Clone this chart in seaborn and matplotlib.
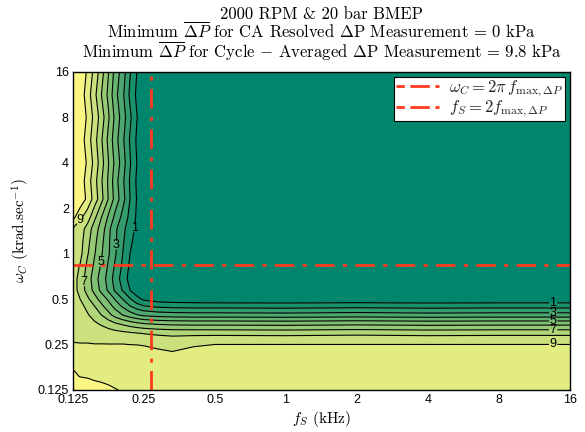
import matplotlib
matplotlib.use("Agg")
import matplotlib.pyplot as plt
import seaborn as sns
from matplotlib.lines import Line2D

# ---------------- data ----------------
fs_khz = [0.125, 0.134, 0.144, 0.154, 0.165, 0.177, 0.189, 0.203, 0.218, 0.233,
          0.25, 0.287, 0.33, 0.406, 0.5, 1.0, 2.0, 4.0, 8.0, 16.0]
omega_c = [16.0, 11.31, 8.0, 5.66, 4.0, 3.03, 2.30, 1.74, 1.46, 1.23, 1.0, 0.812,
           0.683, 0.574, 0.5, 0.451, 0.392, 0.341, 0.297, 0.259, 0.225, 0.189,
           0.154, 0.125]
dp_min_kpa = [
    [12.0, 10.9, 9.8, 8.7, 7.4, 6.0, 4.6, 3.5, 2.1, 1.0, 0.3, 0, 0, 0, 0, 0, 0, 0, 0, 0],
    [12.0, 10.6, 9.5, 8.3, 7.0, 5.7, 4.3, 3.2, 1.8, 0.8, 0.2, 0, 0, 0, 0, 0, 0, 0, 0, 0],
    [12.0, 10.9, 9.8, 8.7, 7.5, 6.1, 4.7, 3.5, 2.2, 1.05, 0.3, 0, 0, 0, 0, 0, 0, 0, 0, 0],
    [12.0, 10.6, 9.5, 8.4, 7.1, 5.7, 4.4, 3.2, 1.9, 0.85, 0.2, 0, 0, 0, 0, 0, 0, 0, 0, 0],
    [12.0, 10.9, 9.8, 8.7, 7.4, 6.0, 4.7, 3.5, 2.1, 1.0, 0.3, 0, 0, 0, 0, 0, 0, 0, 0, 0],
    [12.0, 10.6, 9.5, 8.4, 7.1, 5.8, 4.4, 3.2, 1.9, 0.85, 0.2, 0, 0, 0, 0, 0, 0, 0, 0, 0],
    [11.8, 10.8, 9.7, 8.6, 7.3, 5.9, 4.6, 3.4, 2.0, 0.95, 0.25, 0, 0, 0, 0, 0, 0, 0, 0, 0],
    [10.3, 9.2, 8.5, 7.25, 6.0, 4.8, 3.7, 2.7, 1.7, 0.85, 0.25, 0, 0, 0, 0, 0, 0, 0, 0, 0],
    [8.9, 8.5, 7.6, 6.5, 5.55, 4.25, 3.2, 2.25, 1.5, 0.7, 0.2, 0, 0, 0, 0, 0, 0, 0, 0, 0],
    [8.7, 8.4, 7.35, 6.3, 5.3, 4.15, 3.15, 2.15, 1.3, 0.5, 0.15, 0, 0, 0, 0, 0, 0, 0, 0, 0],
    [8.6, 8.3, 7.1, 6.1, 5.1, 4.1, 3.1, 2.0, 1.0, 0.35, 0.1, 0, 0, 0, 0, 0, 0, 0, 0, 0],
    [8.5, 7.9, 6.7, 5.8, 4.8, 3.8, 2.8, 1.8, 0.8, 0.2, 0.05, 0, 0, 0, 0, 0, 0, 0, 0, 0],
    [8.5, 7.6, 6.5, 5.5, 4.5, 3.6, 2.5, 1.6, 0.6, 0.15, 0.05, 0, 0, 0, 0, 0, 0, 0, 0, 0],
    [8.5, 7.6, 6.6, 5.7, 4.7, 3.8, 2.8, 1.9, 1.0, 0.4, 0.15, 0.05, 0, 0, 0, 0, 0, 0, 0, 0],
    [8.6, 8.0, 7.2, 6.4, 5.6, 4.8, 3.9, 3.0, 2.1, 1.3, 0.8, 0.5, 0.4, 0.35, 0.3, 0.3, 0.3, 0.3, 0.3, 0.3],
    [8.7, 8.3, 7.7, 7.0, 6.2, 5.4, 4.6, 3.8, 3.0, 2.4, 2.0, 1.7, 1.6, 1.55, 1.55, 1.5, 1.6, 1.5, 1.55, 1.55],
    [8.75, 8.5, 8.1, 7.6, 7.0, 6.3, 5.6, 5.0, 4.5, 4.1, 3.8, 3.6, 3.5, 3.45, 3.45, 3.4, 3.5, 3.4, 3.45, 3.45],
    [8.8, 8.65, 8.45, 8.2, 7.9, 7.55, 7.2, 6.9, 6.6, 6.35, 6.15, 5.95, 5.85, 5.8, 5.8, 5.75, 5.85, 5.75, 5.8, 5.8],
    [8.85, 8.8, 8.75, 8.65, 8.55, 8.45, 8.35, 8.25, 8.15, 8.05, 7.95, 7.8, 7.7, 7.7, 7.7, 7.65, 7.75, 7.65, 7.7, 7.7],
    [9.0, 8.95, 8.95, 8.9, 8.9, 8.9, 8.9, 8.9, 8.85, 8.85, 8.8, 8.7, 8.6, 8.8, 8.9, 8.9, 8.9, 8.9, 8.9, 8.9],
    [9.5, 9.5, 9.5, 9.45, 9.45, 9.4, 9.4, 9.4, 9.4, 9.35, 9.3, 9.1, 9.0, 9.2, 9.3, 9.3, 9.3, 9.3, 9.3, 9.3],
    [9.9, 9.85, 9.8, 9.78, 9.75, 9.72, 9.7, 9.68, 9.65, 9.62, 9.6, 9.55, 9.5, 9.5, 9.5, 9.5, 9.5, 9.5, 9.5, 9.5],
    [10.1, 9.98, 9.95, 9.9, 9.87, 9.85, 9.82, 9.8, 9.78, 9.75, 9.7, 9.65, 9.6, 9.6, 9.6, 9.6, 9.6, 9.6, 9.6, 9.6],
    [10.5, 10.4, 10.3, 10.2, 10.15, 10.08, 10.02, 9.97, 9.93, 9.9, 9.85, 9.8, 9.75, 9.7, 9.7, 9.7, 9.7, 9.7, 9.7, 9.7],
]
contour_levels = [0, 1, 2, 3, 4, 5, 6, 7, 8, 9, 10, 12]
label_levels = [1, 3, 5, 7, 9]
plain_levels = [2, 4, 6, 8, 10]
fs_line_khz = 0.268      # f_S = 2 f_max,dP
omega_line = 0.842       # omega_C = 2 pi f_max,dP
x_ticks = [0.125, 0.25, 0.5, 1, 2, 4, 8, 16]
x_tick_labels = ["0.125", "0.25", "0.5", "1", "2", "4", "8", "16"]
y_ticks = [0.125, 0.25, 0.5, 1, 2, 4, 8, 16]
y_tick_labels = ["0.125", "0.25", "0.5", "1", "2", "4", "8", "16"]

# ---------------- style ----------------
sns.set_theme(style="white")
plt.rcParams['font.family'] = ['Liberation Sans', 'DejaVu Sans']
plt.rcParams['mathtext.fontset'] = 'cm'
plt.rcParams['axes.unicode_minus'] = False

band_colors = sns.blend_palette(["#00866c", "#7fbf72", "#fcf784"], n_colors=11)
red = "#ff3b1f"

fig = plt.figure(figsize=(5.85, 4.32), dpi=100)
ax = fig.add_axes([73 / 585, 1 - 390 / 432, 497 / 585, 318 / 432])

ax.contourf(fs_khz, omega_c, dp_min_kpa, levels=contour_levels, colors=band_colors)
ax.contour(fs_khz, omega_c, dp_min_kpa, levels=plain_levels,
           colors="black", linewidths=0.8)
cs = ax.contour(fs_khz, omega_c, dp_min_kpa, levels=label_levels,
                colors="black", linewidths=0.8)

ax.set_xscale("log", base=2)
ax.set_yscale("log", base=2)
ax.set_xlim(0.125, 16)
ax.set_ylim(0.125, 16)
ax.set_xticks(x_ticks)
ax.set_xticklabels(x_tick_labels)
ax.set_yticks(y_ticks)
ax.set_yticklabels(y_tick_labels)
ax.minorticks_off()
ax.tick_params(axis="both", labelsize=9, length=0, pad=3, colors="black")

ax.axvline(fs_line_khz, color=red, lw=2, dashes=(7, 3, 1.5, 3))
ax.axhline(omega_line, color=red, lw=2, dashes=(7, 3, 1.5, 3))

label_spots = [(13.5, 0.47), (13.5, 0.40), (13.5, 0.355), (13.5, 0.32), (13.5, 0.26),
               (0.137, 1.62), (0.224, 1.48), (0.191, 1.14), (0.163, 0.88), (0.134, 0.65)]
ax.clabel(cs, manual=label_spots, fmt="%d", inline=True,
          inline_spacing=1, fontsize=9, colors="black")
for t in cs.labelTexts:
    t.set_rotation(0)

for s in ax.spines.values():
    s.set_color("black")
    s.set_linewidth(1.0)

handles = [Line2D([], [], color=red, lw=2, dashes=(3, 2, 7, 2)),
           Line2D([], [], color=red, lw=2, dashes=(3, 2, 7, 2))]
leg = ax.legend(handles, [r"$\omega_C = 2\pi\, f_{\max,\Delta P}$", r"$f_S = 2 f_{\max,\Delta P}$"],
                loc="upper right", fontsize=12, frameon=True, fancybox=False,
                edgecolor="black", framealpha=1, borderaxespad=0.3, handlelength=2.6,
                borderpad=0.1, labelspacing=0.0, handletextpad=0.6)
leg.get_frame().set_linewidth(0.8)

title = ("2000 RPM & 20 bar BMEP\n"
         r"Minimum $\overline{\Delta P}$ for CA Resolved $\Delta$P Measurement = 0 kPa" "\n"
         r"Minimum $\overline{\Delta P}$ for Cycle $-$ Averaged $\Delta$P Measurement = 9.8 kPa")
ax.set_title(title, fontfamily="cmr10", fontsize=12, pad=10, linespacing=0.95, color="black")
ax.set_xlabel(r"$f_S$ (kHz)", fontfamily="cmr10", fontsize=11, color="black", labelpad=2)
ax.set_ylabel(r"$\omega_C$ (krad.sec$^{-1}$)", fontfamily="cmr10", fontsize=11,
              color="black", labelpad=4)

fig.savefig("out.png", dpi=100)
